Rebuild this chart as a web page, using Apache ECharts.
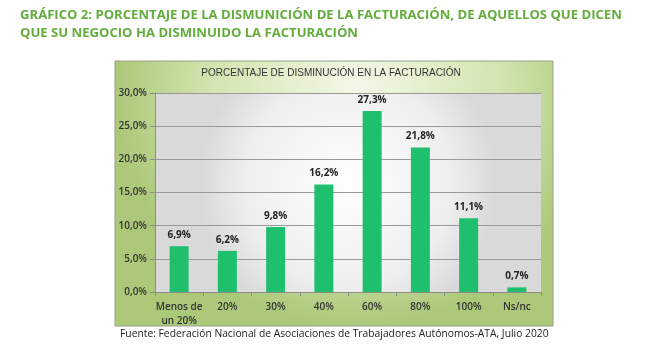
<!DOCTYPE html>
<html><head><meta charset="utf-8">
<script src="https://cdn.jsdelivr.net/npm/echarts@6/dist/echarts.min.js"></script>
<style>html,body{margin:0;padding:0;background:#fff}#c{width:650px;height:351px}</style>
</head><body><div id="c"></div>
<script>
const categories = ['Menos de\nun 20%', '20%', '30%', '40%', '60%', '80%', '100%', 'Ns/nc'];
const values = [6.9, 6.2, 9.8, 16.2, 27.3, 21.8, 11.1, 0.7];
const yTicks = [0, 5, 10, 15, 20, 25, 30];

const chart = echarts.init(document.getElementById('c'), null, {renderer: 'canvas'});
const fmt = v => v.toFixed(1).replace('.', ',') + '%';
chart.setOption({
  backgroundColor: '#ffffff',
  animation: false,
  graphic: [
    {type: 'rect', z: -10, shape: {x: 115, y: 61, width: 438, height: 265},
     style: {fill: {type: 'radial', x: 0.55, y: 0.1, r: 0.9, colorStops: [
       {offset: 0, color: '#f3f8e8'}, {offset: 0.6, color: '#d3e5b0'}, {offset: 1, color: '#acc97a'}]},
       stroke: '#9aa08a', lineWidth: 1}},
    {type: 'text', left: 20, top: 6, style: {text: 'GRÁFICO 2: PORCENTAJE DE LA DISMUNICIÓN DE LA FACTURACIÓN, DE AQUELLOS QUE DICEN\nQUE SU NEGOCIO HA DISMINUIDO LA FACTURACIÓN',
      fill: '#62ad3c', font: 'bold 13.1px "Open Sans", sans-serif', lineHeight: 18}},
    {type: 'text', x: 331, y: 68, style: {text: 'PORCENTAJE DE DISMINUCIÓN EN LA FACTURACIÓN', textAlign: 'center', fill: '#333', font: '10px "Liberation Sans", Arial, sans-serif'}},
    {type: 'text', left: 120, top: 329, style: {text: 'Fuente: Federación Nacional de Asociaciones de Trabajadores Autónomos-ATA, Julio 2020', fill: '#222', font: '10.3px "Open Sans", sans-serif'}}
  ],
  grid: {left: 155, right: 109, top: 93, bottom: 59, show: true, borderWidth: 0,
    backgroundColor: {type: 'radial', x: 0.5, y: 0.45, r: 0.75, colorStops: [
      {offset: 0, color: '#ffffff'}, {offset: 0.7, color: '#eeeeee'}, {offset: 1, color: '#d9d9d9'}]}},
  xAxis: {type: 'category', data: categories,
    axisLine: {show: true, lineStyle: {color: '#8c8c8c'}},
    axisTick: {show: true, lineStyle: {color: '#8c8c8c'}, length: 4},
    axisLabel: {color: '#333', fontSize: 10, fontFamily: '"Open Sans", sans-serif', fontWeight: 600, margin: 8, lineHeight: 14, interval: 0}},
  yAxis: {type: 'value', min: 0, max: 30, interval: 5,
    axisLine: {show: true, lineStyle: {color: '#8c8c8c'}},
    axisTick: {show: true, lineStyle: {color: '#8c8c8c'}, length: 5},
    splitLine: {lineStyle: {color: '#999999', width: 1}},
    axisLabel: {color: '#333', fontSize: 10, fontFamily: '"Open Sans", sans-serif', fontWeight: 600, margin: 8,
      formatter: v => yTicks.includes(v) ? fmt(v) : ''}},
  series: [{type: 'bar', data: values, barWidth: 19,
    itemStyle: {color: '#1fbf6e'},
    label: {show: true, position: 'top', distance: 6, color: '#222', fontSize: 10, fontWeight: 'bold', fontFamily: '"Open Sans", sans-serif',
      formatter: p => fmt(p.value)}}]
});
</script></body></html>
